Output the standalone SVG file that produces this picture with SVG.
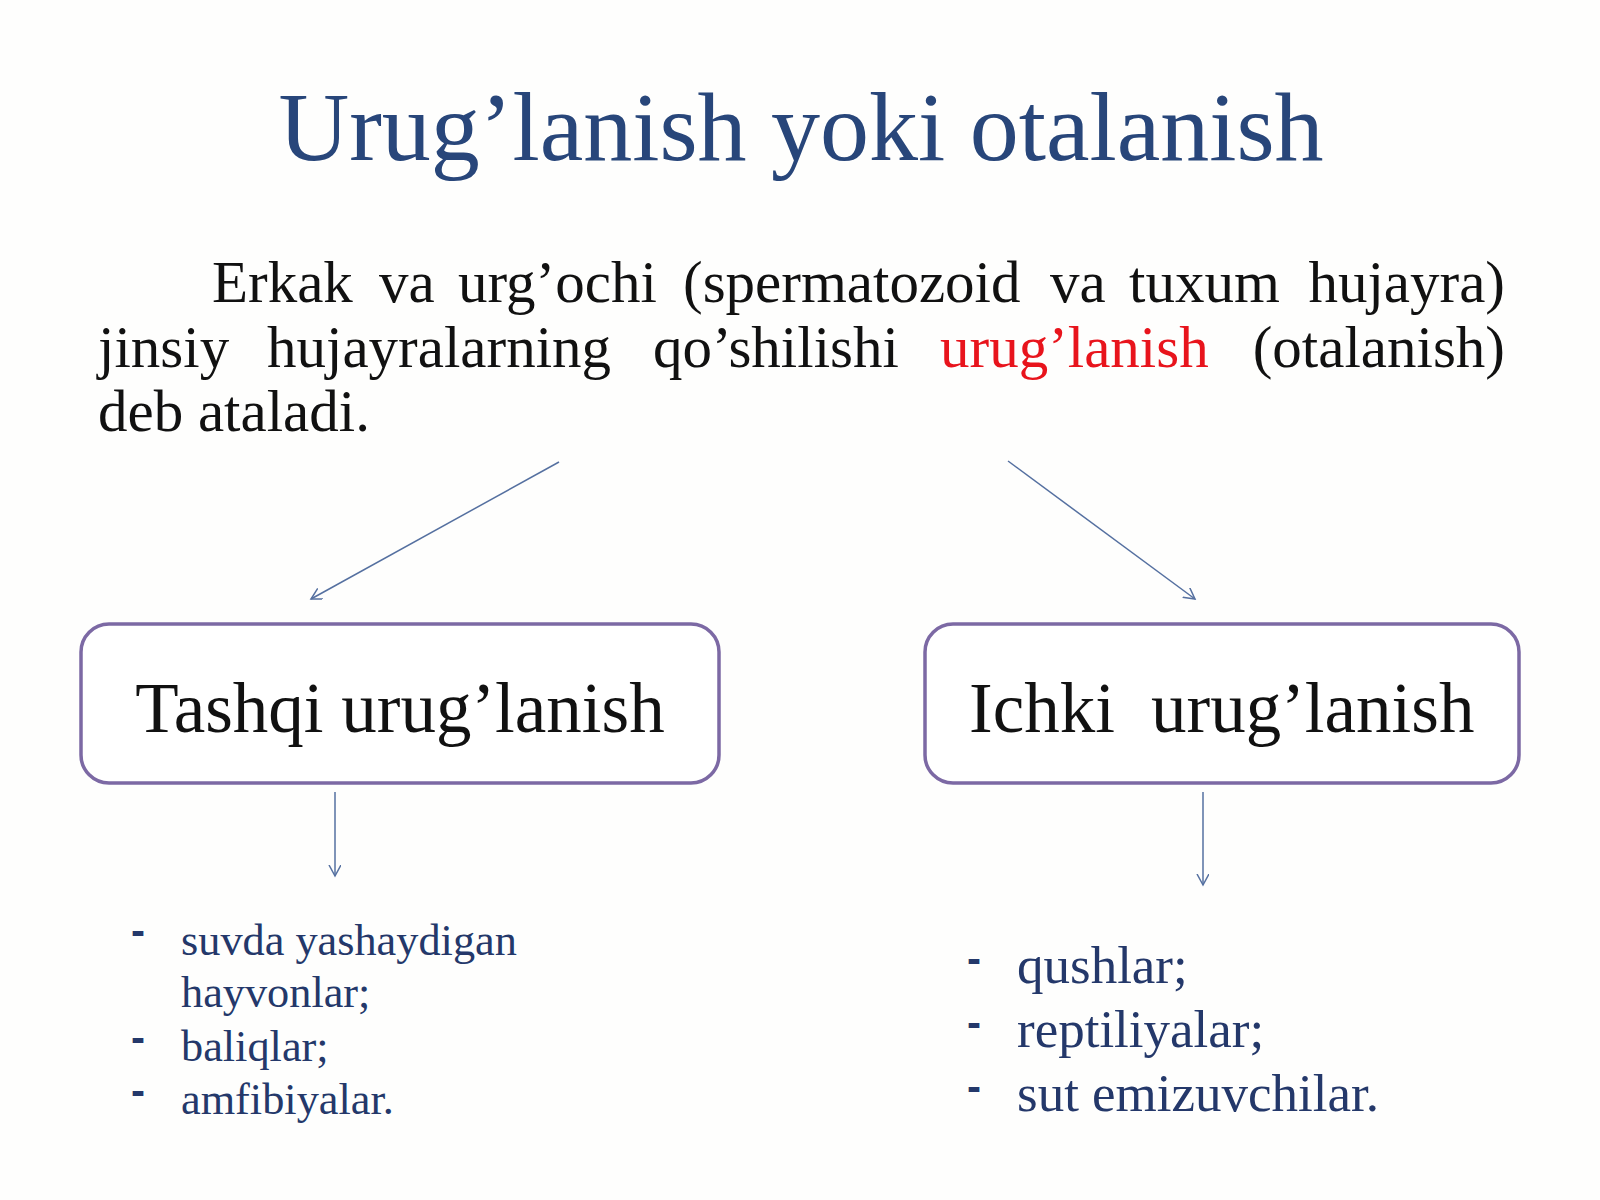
<svg xmlns="http://www.w3.org/2000/svg" width="1600" height="1200" viewBox="0 0 1600 1200">
  <style>
    .serif { font-family: "Liberation Serif", "Times New Roman", serif; }
    .title { font-size: 98px; fill: #28467A; }
    .para { font-size: 59px; fill: #111111; }
    .red { fill: #E8141C; }
    .box { fill: #FFFFFF; stroke: #7C69A4; stroke-width: 3.5; }
    .boxtext { font-size: 71px; fill: #111111; }
    .list { font-size: 44.3px; fill: #24386A; }
    .list2 { font-size: 53px; fill: #24386A; }
    .dash { font-family: "Liberation Sans", Arial, sans-serif; font-size: 42px; font-weight: bold; fill: #24386A; }
    .conn { stroke: #5570A0; stroke-width: 1.5; fill: none; marker-end: url(#arr); }
  </style>
  <defs>
    <marker id="arr" markerUnits="userSpaceOnUse" markerWidth="20" markerHeight="20" refX="11" refY="6" orient="auto">
      <path d="M0,0 L11,6 L0,12" fill="none" stroke="#5570A0" stroke-width="1.5"/>
    </marker>
  </defs>
  <rect width="1600" height="1200" fill="#FEFEFD"/>

  <g id="title">
    <text class="serif title" x="801" y="160" text-anchor="middle">Urug’lanish yoki otalanish</text>
  </g>

  <g id="definition" class="serif para">
    <text y="302">
      <tspan x="212">Erkak</tspan><tspan x="379">va</tspan><tspan x="458">urg’ochi</tspan><tspan x="683">(spermatozoid</tspan><tspan x="1050">va</tspan><tspan x="1129">tuxum</tspan>
    </text>
    <text x="1505" y="302" text-anchor="end">hujayra)</text>
    <text y="367">
      <tspan x="98">jinsiy</tspan><tspan x="267">hujayralarning</tspan><tspan x="653">qo’shilishi</tspan><tspan x="940" class="red">urug’lanish</tspan>
    </text>
    <text x="1505" y="367" text-anchor="end">(otalanish)</text>
    <text x="98" y="431">deb ataladi.</text>
  </g>

  <g id="connectors">
    <line class="conn" x1="559" y1="462" x2="311" y2="599"/>
    <line class="conn" x1="1008" y1="461" x2="1195" y2="599"/>
    <line class="conn" x1="335" y1="792" x2="335" y2="876"/>
    <line class="conn" x1="1203" y1="792" x2="1203" y2="885"/>
  </g>

  <g id="node-tashqi">
    <rect class="box" x="81" y="624" width="638" height="159" rx="28" ry="28"/>
    <text class="serif boxtext" x="400" y="732" text-anchor="middle">Tashqi urug’lanish</text>
  </g>

  <g id="node-ichki">
    <rect class="box" x="925" y="624" width="594" height="159" rx="28" ry="28"/>
    <text class="serif boxtext" y="732"><tspan x="969">Ichki</tspan><tspan x="1151">urug’lanish</tspan></text>
  </g>

  <g id="list-tashqi">
    <text class="dash" x="131" y="945">-</text>
    <text class="serif list" x="181" y="955">suvda yashaydigan</text>
    <text class="serif list" x="181" y="1007">hayvonlar;</text>
    <text class="dash" x="131" y="1052">-</text>
    <text class="serif list" x="181" y="1061">baliqlar;</text>
    <text class="dash" x="131" y="1105">-</text>
    <text class="serif list" x="181" y="1114">amfibiyalar.</text>
  </g>

  <g id="list-ichki">
    <text class="dash" x="967" y="973">-</text>
    <text class="serif list2" x="1017" y="983">qushlar;</text>
    <text class="dash" x="967" y="1037">-</text>
    <text class="serif list2" x="1017" y="1047">reptiliyalar;</text>
    <text class="dash" x="967" y="1101">-</text>
    <text class="serif list2" x="1017" y="1111">sut emizuvchilar.</text>
  </g>
</svg>
